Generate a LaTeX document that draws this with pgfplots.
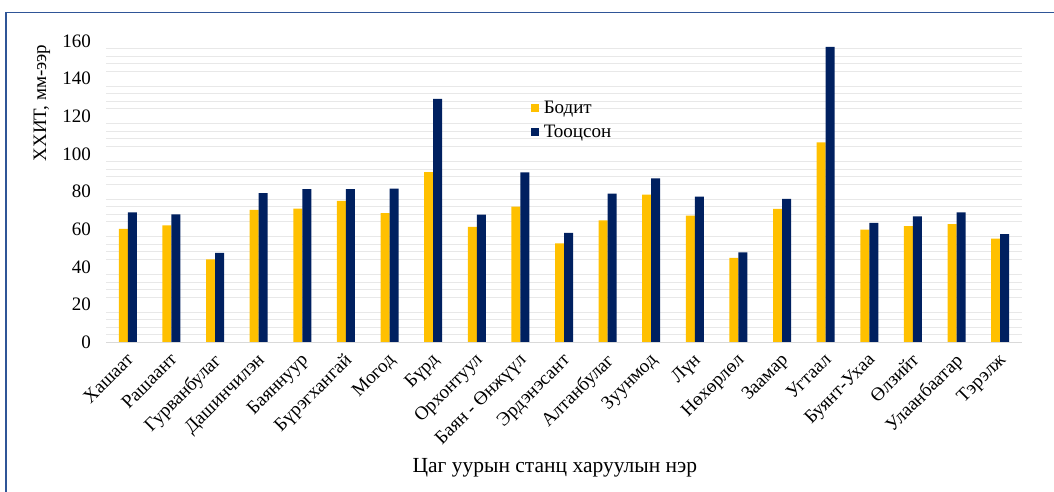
\documentclass[border=0pt]{standalone}
\usepackage{fontspec}
\setmainfont{Liberation Serif}
\usepackage{pgfplots}
\pgfplotsset{compat=1.18}
\definecolor{byellow}{RGB}{255,192,0}
\definecolor{bnavy}{RGB}{0,32,96}
\definecolor{frameblue}{RGB}{47,85,151}
\begin{document}
\begin{tikzpicture}[x=1pt,y=1pt]
\path[use as bounding box] (0,0) rectangle (1054,491);
\draw[frameblue, line width=1.5pt] (6,-2) -- (6,478.5) -- (1056,478.5);
\begin{axis}[
  at={(106pt,148.7pt)}, anchor=south west,
  scale only axis, width=916pt, height=301.3pt,
  xmin=-0.5, xmax=20.5, ymin=0, ymax=160,
  ybar=0pt, bar width=9pt,
  axis line style={draw=none},
  major tick length=0pt, minor tick length=0pt,
  /pgf/number format/assume math mode=true,
  ytick={0,20,...,160},
  minor ytick={4,8,12,16,24,28,32,36,44,48,52,56,64,68,72,76,84,88,92,96,104,108,112,116,124,128,132,136,144,148,152,156},
  yminorgrids=true, ymajorgrids=false,
  minor grid style={color=black!9, line width=0.9pt},
  xtick={0,...,20},
  xticklabels={Хашаат, Рашаант, Гурванбулаг, Дашинчилэн, Баяннуур, Бүрэгхангай, Могод, Бүрд, Орхонтуул, Баян - Өнжүүл, Эрдэнэсант, Алтанбулаг, Зуунмод, Лүн, Нөхөрлөл, Заамар, Угтаал, Буянт-Ухаа, Өлзийт, Улаанбаатар, Тэрэлж},
  xticklabel style={anchor=north east, inner sep=0pt, xshift=-2.5pt, yshift=-9.5pt, rotate=45, font=\fontsize{19}{22}\selectfont},
  yticklabel style={anchor=east, inner sep=0pt, xshift=-15pt, font=\fontsize{19}{22}\selectfont},
  legend style={at={(rel axis cs:0.4635,0.808)}, anchor=north west, draw=none, fill=none, inner sep=0pt,
    font=\fontsize{19}{22}\selectfont, row sep=6pt, nodes={inner xsep=5pt}},
  legend cell align=left,
  xlabel={Цаг уурын станц харуулын нэр},
  xlabel style={at={(rel axis cs:0.49,0)}, anchor=center, yshift=-125pt, font=\fontsize{21.5}{25}\selectfont},
  clip=false,
]
\addplot[fill=byellow, draw=none, legend image code/.code={\fill[byellow] (0pt,-4pt) rectangle (8pt,4pt);}] coordinates {
(0,60.2) (1,62.1) (2,44.1) (3,70.3) (4,71.0) (5,75.1) (6,68.6) (7,90.4) (8,61.3) (9,72.1)
(10,52.6) (11,64.8) (12,78.4) (13,67.3) (14,44.9) (15,70.8) (16,106.2) (17,59.8) (18,61.7) (19,62.8) (20,55.0)};
\addplot[fill=bnavy, draw=none, legend image code/.code={\fill[bnavy] (0pt,-4pt) rectangle (8pt,4pt);}] coordinates {
(0,69.0) (1,68.0) (2,47.5) (3,79.2) (4,81.3) (5,81.3) (6,81.6) (7,129.3) (8,67.8) (9,90.2)
(10,58.1) (11,79.0) (12,87.1) (13,77.3) (14,47.7) (15,76.1) (16,156.9) (17,63.4) (18,66.9) (19,69.0) (20,57.4)};
\legend{Бодит, Тооцсон}
\draw[black!15, line width=1pt] (axis cs:-0.5,0) -- (axis cs:20.5,0);
\end{axis}
\node[rotate=90, font=\fontsize{19}{22}\selectfont] at (42,388) {ХХИТ, мм-ээр};
\end{tikzpicture}
\end{document}
